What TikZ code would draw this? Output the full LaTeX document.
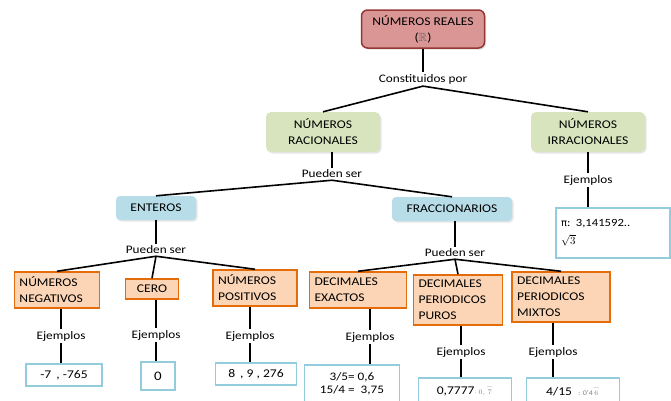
\documentclass[tikz,border=0pt]{standalone}
\usepackage{amsmath}
\usepackage{amssymb}
\usepackage{fontspec}
\setmainfont{Carlito}[FakeStretch=1.15]
\newfontfamily\symfont{DejaVu Sans}
\usetikzlibrary{shadows}
\definecolor{realfill}{RGB}{217,150,148}
\definecolor{realborder}{RGB}{149,55,53}
\definecolor{greenfill}{RGB}{215,228,189}
\definecolor{bluefill}{RGB}{183,221,232}
\definecolor{orangefill}{RGB}{251,213,181}
\definecolor{orangeborder}{RGB}{228,108,10}
\definecolor{exborder}{RGB}{147,205,221}

\begin{document}
\begin{tikzpicture}[x=1pt, y=-1pt,
    every node/.style={font=\fontsize{11.8}{16}\selectfont, inner sep=5pt},
    realbox/.style={rectangle, rounded corners=6pt, draw=realborder, line width=1.5pt, fill=realfill, align=center, minimum width=123pt, minimum height=38pt, drop shadow={fill=black!25, shadow xshift=1.5pt, shadow yshift=-1.5pt}},
    greenbox/.style={rectangle, rounded corners=5pt, fill=greenfill, align=center, minimum width=114pt, minimum height=40pt, drop shadow={fill=black!20, shadow xshift=1.5pt, shadow yshift=-1.5pt}},
    bluebox/.style={rectangle, rounded corners=4pt, fill=bluefill, align=center, minimum height=24pt, drop shadow={fill=black!20, shadow xshift=1.5pt, shadow yshift=-1.5pt}},
    orangebox/.style={rectangle, draw=orangeborder, line width=1.5pt, fill=orangefill, align=left, anchor=center},
    exbox/.style={rectangle, draw=exborder, line width=1.2pt, fill=white, align=center},
    linktext/.style={font=\fontsize{11.5}{13}\selectfont, inner sep=2pt},
    link/.style={line width=1.6pt, black}
]
    \useasboundingbox (0,0) rectangle (671,400);

    % Top level
    \node[realbox] (real) at (423,29) {NÚMEROS REALES\\({\color{black!60}$\mathbb{R}$})};
    \node[linktext] (const) at (423,79) {Constituidos por};
    \node[greenbox] (racional) at (323,132) {NÚMEROS\\RACIONALES};
    \node[greenbox] (irracional) at (588,132) {NÚMEROS\\IRRACIONALES};

    \draw[link] (real.south) -- (const.north);
    \draw[link] (const.south) -- (racional.north);
    \draw[link] (const.south) -- (irracional.north);

    % Irracionales
    \node[linktext] (ejIrr) at (588,180) {Ejemplos};
    \node[exbox, align=left, text width=104pt, minimum height=50pt, inner sep=5pt, font=\fontsize{11}{13}\selectfont] (exIrr) at (613,233) {{\symfont\fontsize{10}{12}\selectfont π}: 3,141592..\\[5pt]$\sqrt{3}$};
    \draw[link] (irracional.south) -- (ejIrr.north);
    \draw[link] (ejIrr.south) -- (ejIrr.south |- exIrr.north);

    % Racionales
    \node[linktext] (pueden1) at (332,174) {Pueden ser};
    \node[bluebox, minimum width=80pt] (enteros) at (156,208) {ENTEROS};
    \node[bluebox, minimum width=120pt] (fracc) at (452,209) {FRACCIONARIOS};
    \draw[link] (pueden1.north |- racional.south) -- (pueden1.north);
    \draw[link] (pueden1.south) -- (enteros.north);
    \draw[link] (pueden1.south) -- (fracc.north);

    % Enteros
    \node[linktext] (pueden2) at (156,250) {Pueden ser};
    \draw[link] (enteros.south) -- (pueden2.north);
    \node[orangebox, text width=75pt, minimum height=36pt] (neg) at (57,290) {NÚMEROS\\NEGATIVOS};
    \node[orangebox, align=center, minimum width=53pt, minimum height=20pt, inner sep=3pt] (cero) at (152,289) {CERO};
    \node[orangebox, text width=74pt, minimum height=36pt] (pos) at (255,288) {NÚMEROS\\POSITIVOS};
    \draw[link] (pueden2.south) -- (neg.north);
    \draw[link] (pueden2.south) -- (cero.north);
    \draw[link] (pueden2.south) -- (pos.north);

    \node[linktext] (ejNeg) at (61,336) {Ejemplos};
    \node[linktext] (ejCero) at (156,335) {Ejemplos};
    \node[linktext] (ejPos) at (250,336) {Ejemplos};
    \node[exbox, minimum width=76pt, minimum height=22pt, inner sep=3pt] (exNeg) at (64,375) {-7 \,, -765};
    \node[exbox, minimum width=34pt, minimum height=28pt, font=\fontsize{13}{15}\selectfont, inner sep=3pt] (exCero) at (158,376) {0};
    \node[exbox, minimum width=81pt, minimum height=22pt, inner sep=3pt] (exPos) at (256,374) {8 \,, 9 , 276};
    \draw[link] (ejNeg.north |- neg.south) -- (ejNeg.north);
    \draw[link] (ejNeg.south) -- (ejNeg.south |- exNeg.north);
    \draw[link] (ejCero.north |- cero.south) -- (ejCero.north);
    \draw[link] (ejCero.south) -- (ejCero.south |- exCero.north);
    \draw[link] (ejPos.north |- pos.south) -- (ejPos.north);
    \draw[link] (ejPos.south) -- (ejPos.south |- exPos.north);

    % Fraccionarios
    \node[linktext] (pueden3) at (455,253) {Pueden ser};
    \draw[link] (pueden3.north |- fracc.south) -- (pueden3.north);
    \node[orangebox, text width=87pt, minimum height=36pt] (exactos) at (358,290) {DECIMALES\\EXACTOS};
    \node[orangebox, text width=79pt, minimum height=50pt] (puros) at (458,300) {DECIMALES\\PERIODICOS\\PUROS};
    \node[orangebox, text width=88pt, minimum height=50pt] (mixtos) at (561,297) {DECIMALES\\PERIODICOS\\MIXTOS};
    \draw[link] (pueden3.south) -- (exactos.north);
    \draw[link] (pueden3.south) -- (puros.north);
    \draw[link] (pueden3.south) -- (mixtos.north);

    \node[linktext] (ejExa) at (370,337) {Ejemplos};
    \node[linktext] (ejPur) at (461,352) {Ejemplos};
    \node[linktext] (ejMix) at (553,352) {Ejemplos};
    \node[exbox, minimum width=95pt, minimum height=38pt, inner sep=3pt, font=\fontsize{11.5}{13}\selectfont] (exExa) at (352,384) {3/5= 0,6\\15/4 = \ 3,75};
    \node[exbox, minimum width=93pt, minimum height=26pt, inner sep=3pt] (exPur) at (465,391) {0,7777{\color{black!50}\scriptsize$\cdot$ $0,\overset{\frown}{7}$}};
    \node[exbox, minimum width=93pt, minimum height=26pt, inner sep=3pt] (exMix) at (573,391) {4/15 \ {\color{black!50}\scriptsize: 0'4$\overset{\frown}{6}$}};
    \draw[link] (ejExa.north |- exactos.south) -- (ejExa.north);
    \draw[link] (ejExa.south) -- (ejExa.south |- exExa.north);
    \draw[link] (ejPur.north |- puros.south) -- (ejPur.north);
    \draw[link] (ejPur.south) -- (ejPur.south |- exPur.north);
    \draw[link] (ejMix.north |- mixtos.south) -- (ejMix.north);
    \draw[link] (ejMix.south) -- (ejMix.south |- exMix.north);
\end{tikzpicture}
\end{document}
